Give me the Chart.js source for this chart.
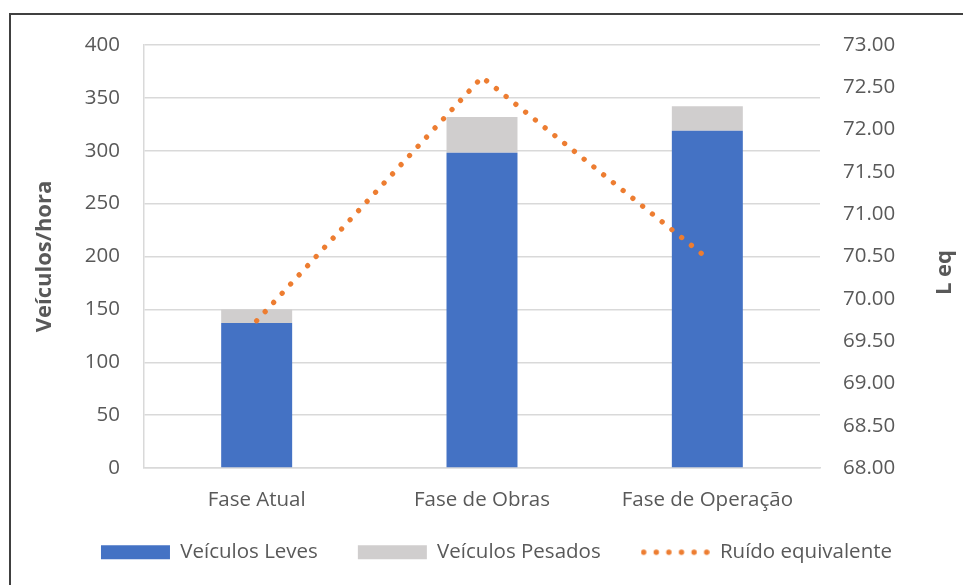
<!DOCTYPE html>
<html>
<head>
<meta charset="utf-8">
<script src="https://cdn.jsdelivr.net/npm/chart.js@4.4.1/dist/chart.umd.min.js"></script>
<style>
  html, body { margin: 0; padding: 0; background: #fff; overflow: hidden; }
  #wrap { position: relative; width: 963px; height: 585px; }
  #wrap canvas { position: absolute; left: 0; top: 0; }
  #frame {
    position: absolute; left: 9px; top: 13px; width: 2000px; height: 2000px;
    border-left: 2px solid #404040; border-top: 2px solid #404040;
    pointer-events: none;
  }
</style>
</head>
<body>
<div id="wrap">
  <canvas id="chart" width="963" height="585"></canvas>
  <div id="frame"></div>
</div>
<script>
// Traffic per phase (vehicles/hour) and equivalent noise level (Leq)
const categories = ['Fase Atual', 'Fase de Obras', 'Fase de Operação'];
const veiculosLeves = [137, 298, 319];
const veiculosPesados = [13, 34, 23];
const ruidoEquivalente = [69.74, 72.62, 70.48];

// Axis ranges: [min, max, step]
const vehicleAxis = [0, 400, 50];
const noiseAxis = [68, 73, 0.5];

const seriesNames = ['Veículos Leves', 'Veículos Pesados', 'Ruído equivalente'];
const axisTitles = ['Veículos/hora', 'L eq'];

const BLUE = '#4472C4';
const GREY = '#D0CECE';
const ORANGE = '#ED7D31';
const TEXT = '#595959';
const GRID = '#D9D9D9';
const FONT = "'Open Sans', Lato, sans-serif";
const SIZE = 20.5;
const TITLE_SIZE = 22;

Chart.defaults.font.family = FONT;
Chart.defaults.font.size = SIZE;
Chart.defaults.color = TEXT;

// Small dotted swatch for the noise series in the legend
function dottedSwatch(width, height, color) {
  const c = document.createElement('canvas');
  c.width = width; c.height = height;
  const g = c.getContext('2d');
  g.fillStyle = color;
  for (let i = 0; i < 6; i++) {
    g.beginPath();
    g.arc(3 + i * 12.6, height / 2, 2.7, 0, Math.PI * 2);
    g.fill();
  }
  return c;
}
const swatchWidth = 69;
const noiseSwatch = dottedSwatch(swatchWidth, 14, ORANGE);
const legendPadding = 40;
const legendLift = 12;

// Right-hand axis title, read bottom to top
const rightAxisTitle = {
  id: 'rightAxisTitle',
  afterDraw(chart) {
    const s = chart.scales.y1;
    const ctx = chart.ctx;
    ctx.save();
    ctx.translate(s.right - 18, (s.top + s.bottom) / 2 + 16);
    ctx.rotate(-Math.PI / 2);
    ctx.font = 'bold ' + TITLE_SIZE + 'px ' + FONT;
    ctx.fillStyle = TEXT;
    ctx.textAlign = 'center';
    ctx.textBaseline = 'middle';
    ctx.fillText(axisTitles[1], 0, 0);
    ctx.restore();
  }
};

// The legend keeps wide gaps between items; pull its row up so the
// inner padding does not push it off the bottom edge.
const liftLegend = {
  id: 'liftLegend',
  afterLayout(chart) {
    const lg = chart.legend;
    if (lg) { lg.top -= legendLift; lg.bottom -= legendLift; }
  }
};

new Chart(document.getElementById('chart'), {
  data: {
    labels: categories,
    datasets: [
      {
        type: 'bar', label: seriesNames[0], data: veiculosLeves,
        backgroundColor: BLUE, yAxisID: 'y', order: 1,
        barPercentage: 0.315, categoryPercentage: 1
      },
      {
        type: 'bar', label: seriesNames[1], data: veiculosPesados,
        backgroundColor: GREY, yAxisID: 'y', order: 1,
        barPercentage: 0.315, categoryPercentage: 1
      },
      {
        type: 'line', label: seriesNames[2], data: ruidoEquivalente,
        yAxisID: 'y1', order: 0,
        borderColor: ORANGE, backgroundColor: ORANGE,
        borderWidth: 5.3, borderDash: [0.01, 12.5], borderCapStyle: 'round',
        pointRadius: 0, fill: false, tension: 0
      }
    ]
  },
  options: {
    responsive: false,
    animation: false,
    layout: { padding: { top: 45, bottom: 0.5, left: 30, right: 0 } },
    plugins: {
      tooltip: { enabled: false },
      legend: {
        position: 'bottom',
        labels: {
          usePointStyle: true,
          pointStyleWidth: swatchWidth,
          boxHeight: 14,
          padding: legendPadding,
          color: TEXT,
          font: { size: SIZE },
          generateLabels(chart) {
            return chart.data.datasets.map((ds, i) => ({
              text: ds.label,
              fillStyle: ds.type === 'line' ? 'transparent' : ds.backgroundColor,
              strokeStyle: 'transparent',
              lineWidth: 0,
              pointStyle: ds.type === 'line' ? noiseSwatch : 'rect',
              fontColor: TEXT,
              hidden: false,
              datasetIndex: i
            }));
          }
        }
      }
    },
    scales: {
      x: {
        stacked: true,
        grid: { display: false, drawTicks: false },
        border: { display: true, color: GRID, width: 1.5 },
        ticks: { padding: 20, color: TEXT, font: { size: SIZE } },
        afterFit(scale) { scale.height = 46; }
      },
      y: {
        stacked: true,
        position: 'left',
        min: vehicleAxis[0], max: vehicleAxis[1],
        ticks: { stepSize: vehicleAxis[2], padding: 24, color: TEXT, font: { size: SIZE } },
        grid: { color: GRID, lineWidth: 1.4, drawTicks: false },
        border: { display: true, color: GRID, width: 1.5 },
        title: {
          display: true, text: axisTitles[0], color: TEXT,
          font: { size: TITLE_SIZE, weight: 'bold' }, padding: { top: 2, bottom: 0 }
        },
        afterFit(scale) { scale.width = 114; }
      },
      y1: {
        position: 'right',
        min: noiseAxis[0], max: noiseAxis[1],
        ticks: {
          stepSize: noiseAxis[2], padding: 23, color: TEXT, font: { size: SIZE },
          callback: v => Number(v).toFixed(2)
        },
        grid: { display: false, drawTicks: false },
        border: { display: false },
        afterFit(scale) { scale.width = 143; }
      }
    }
  },
  plugins: [rightAxisTitle, liftLegend]
});
</script>
</body>
</html>
